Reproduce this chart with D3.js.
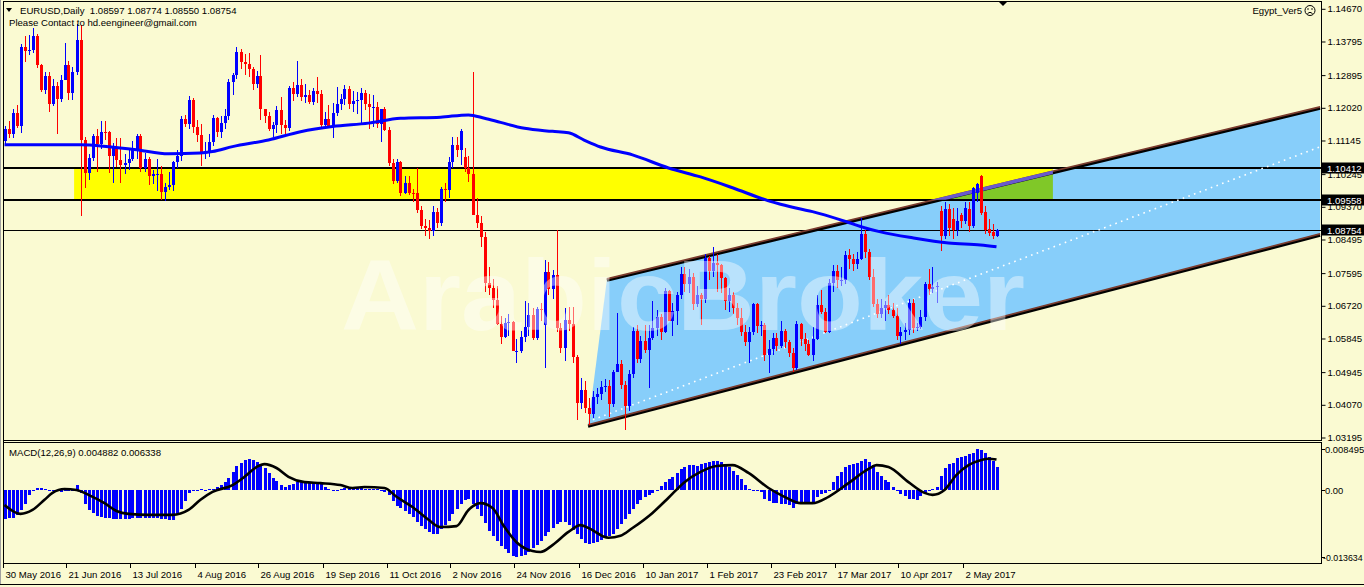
<!DOCTYPE html>
<html><head><meta charset="utf-8"><title>EURUSD Daily</title>
<script src="https://cdn.jsdelivr.net/npm/d3@7/dist/d3.min.js"></script>
<style>
html,body{margin:0;padding:0;background:#FAFAD2;overflow:hidden;}
svg{display:block;}
</style></head><body>
<svg id="chart" width="1364" height="587"></svg>
<script>
// ---------------- DATA ----------------
const open=[1.1114,1.1144,1.1131,1.1187,1.1153,1.1366,1.1355,1.1357,1.1395,1.1316,
1.1250,1.1287,1.1213,1.1261,1.1226,1.1277,1.1317,1.1241,1.1299,1.1383,
1.1117,1.1027,1.1067,1.1127,1.1105,1.1138,1.1136,1.1074,1.1097,1.1062,
1.1050,1.1055,1.1066,1.1092,1.1126,1.1041,1.1066,1.1020,1.1024,1.1026,
1.0976,1.0991,1.0996,1.1057,1.1074,1.1173,1.1159,1.1224,1.1151,1.1128,
1.1085,1.1086,1.1111,1.1175,1.1137,1.1160,1.1181,1.1272,1.1290,1.1351,
1.1325,1.1318,1.1306,1.1265,1.1287,1.1199,1.1180,1.1146,1.1157,1.1196,
1.1155,1.1148,1.1254,1.1238,1.1263,1.1232,1.1237,1.1217,1.1246,1.1238,
1.1155,1.1173,1.1154,1.1188,1.1211,1.1225,1.1253,1.1212,1.1219,1.1223,
1.1241,1.1211,1.1204,1.1205,1.1158,1.1200,1.1143,1.1055,1.1005,1.1056,
1.0973,1.1000,1.0974,1.0973,1.0928,1.0885,1.0880,1.0873,1.0923,1.0894,
1.0985,1.0981,1.1057,1.1103,1.1088,1.1070,1.1040,1.1026,1.0916,1.0893,
1.0856,1.0734,1.0719,1.0687,1.0622,1.0588,1.0626,1.0629,1.0550,1.0551,
1.0588,1.0614,1.0647,1.0586,1.0664,1.0620,1.0763,1.0718,1.0755,1.0613,
1.0560,1.0634,1.0623,1.0535,1.0411,1.0447,1.0398,1.0383,1.0427,1.0436,
1.0454,1.0458,1.0408,1.0495,1.0516,1.0460,1.0404,1.0489,1.0605,1.0530,
1.0577,1.0555,1.0585,1.0613,1.0643,1.0602,1.0711,1.0631,1.0658,1.0701,
1.0756,1.0730,1.0750,1.0677,1.0700,1.0691,1.0799,1.0766,1.0787,1.0782,
1.0746,1.0686,1.0700,1.0667,1.0640,1.0602,1.0574,1.0602,1.0676,1.0617,
1.0620,1.0541,1.0557,1.0585,1.0564,1.0604,1.0576,1.0547,1.0506,1.0622,
1.0582,1.0571,1.0540,1.0582,1.0673,1.0656,1.0602,1.0733,1.0765,1.0741,
1.0742,1.0809,1.0797,1.0783,1.0796,1.0865,1.0815,1.0750,1.0676,1.0651,
1.0665,1.0674,1.0662,1.0646,1.0591,1.0601,1.0606,1.0680,1.0613,1.0616,
1.0642,1.0731,1.0717,1.0722,1.0925,1.0858,1.0930,1.0905,1.0874,1.0914,
1.0899,1.0930,1.0885,1.0975,1.1020,1.0924,1.0877,1.0870,1.08597];
const high=[1.1152,1.1167,1.1200,1.1209,1.1374,1.1395,1.1397,1.1416,1.1400,1.1320,
1.1297,1.1298,1.1280,1.1270,1.1290,1.1375,1.1328,1.1310,1.1427,1.1423,
1.1125,1.1079,1.1132,1.1144,1.1166,1.1167,1.1139,1.1107,1.1120,1.1121,
1.1078,1.1095,1.1112,1.1132,1.1132,1.1080,1.1071,1.1036,1.1064,1.1046,
1.1002,1.1029,1.1060,1.1090,1.1179,1.1183,1.1234,1.1229,1.1169,1.1159,
1.1110,1.1131,1.1184,1.1177,1.1180,1.1199,1.1280,1.1295,1.1366,1.1360,
1.1345,1.1348,1.1310,1.1300,1.1342,1.1200,1.1190,1.1163,1.1208,1.1230,
1.1170,1.1260,1.1270,1.1327,1.1278,1.1265,1.1250,1.1256,1.1285,1.1250,
1.1190,1.1210,1.1215,1.1257,1.1240,1.1262,1.1260,1.1248,1.1245,1.1255,
1.1250,1.1240,1.1235,1.1218,1.1195,1.1205,1.1150,1.1065,1.1066,1.1060,
1.1020,1.1020,1.0985,1.1040,1.0938,1.0905,1.0902,1.0940,1.0935,1.0990,
1.1000,1.1070,1.1124,1.1125,1.1145,1.1095,1.1072,1.1299,1.0960,1.0912,
1.0870,1.0775,1.0745,1.0725,1.0645,1.0640,1.0651,1.0630,1.0582,1.0605,
1.0685,1.0680,1.0665,1.0668,1.0680,1.0795,1.0790,1.0767,1.0874,1.0625,
1.0666,1.0670,1.0669,1.0540,1.0478,1.0470,1.0424,1.0445,1.0451,1.0470,
1.0477,1.0474,1.0500,1.0652,1.0528,1.0470,1.0500,1.0615,1.0620,1.0590,
1.0621,1.0620,1.0685,1.0660,1.0650,1.0720,1.0715,1.0680,1.0710,1.0775,
1.0775,1.0770,1.0760,1.0725,1.0705,1.0810,1.0805,1.0829,1.0810,1.0785,
1.0750,1.0720,1.0710,1.0680,1.0665,1.0620,1.0615,1.0680,1.0680,1.0630,
1.0625,1.0580,1.0600,1.0600,1.0630,1.0610,1.0580,1.0560,1.0630,1.0625,
1.0600,1.0580,1.0615,1.0700,1.0715,1.0665,1.0745,1.0780,1.0780,1.0775,
1.0820,1.0825,1.0810,1.0815,1.0906,1.0875,1.0825,1.0770,1.0690,1.0690,
1.0685,1.0700,1.0680,1.0665,1.0615,1.0625,1.0690,1.0690,1.0625,1.0660,
1.0737,1.0770,1.0777,1.0735,1.0938,1.0950,1.0945,1.0935,1.0935,1.0920,
1.0950,1.0950,1.0990,1.1000,1.1022,1.0940,1.0905,1.0890,1.08774];
const low=[1.1105,1.1120,1.1121,1.1147,1.1134,1.1325,1.1342,1.1350,1.1309,1.1243,
1.1240,1.1190,1.1208,1.1131,1.1218,1.1277,1.1223,1.1223,1.1290,1.0912,
1.0986,1.1010,1.1060,1.1030,1.1093,1.1115,1.1028,1.1001,1.1043,1.1000,
1.1024,1.1036,1.1060,1.1066,1.1031,1.1030,1.0995,1.0999,1.0980,1.0954,
1.0952,1.0982,1.0980,1.1040,1.1060,1.1150,1.1145,1.1135,1.1110,1.1045,
1.1065,1.1070,1.1100,1.1125,1.1120,1.1145,1.1170,1.1235,1.1280,1.1305,
1.1290,1.1285,1.1250,1.1255,1.1170,1.1160,1.1140,1.1123,1.1135,1.1133,
1.1132,1.1140,1.1220,1.1230,1.1220,1.1216,1.1211,1.1210,1.1215,1.1150,
1.1150,1.1150,1.1120,1.1180,1.1196,1.1210,1.1200,1.1190,1.1185,1.1160,
1.1195,1.1145,1.1150,1.1148,1.1110,1.1140,1.1047,1.0999,1.1000,1.0965,
1.0970,1.0968,1.0950,1.0920,1.0878,1.0860,1.0851,1.0860,1.0880,1.0885,
1.0950,1.0960,1.1040,1.1070,1.1050,1.1030,1.1003,1.0972,1.0880,1.0830,
1.0710,1.0700,1.0665,1.0620,1.0570,1.0585,1.0590,1.0550,1.0518,1.0545,
1.0575,1.0590,1.0580,1.0580,1.0630,1.0505,1.0700,1.0690,1.0601,1.0545,
1.0525,1.0605,1.0520,1.0366,1.0395,1.0385,1.0352,1.0373,1.0410,1.0420,
1.0440,1.0375,1.0400,1.0495,1.0450,1.0340,1.0390,1.0480,1.0520,1.0520,
1.0545,1.0453,1.0580,1.0590,1.0580,1.0600,1.0630,1.0590,1.0620,1.0690,
1.0710,1.0705,1.0660,1.0670,1.0620,1.0680,1.0740,1.0750,1.0708,1.0705,
1.0660,1.0655,1.0650,1.0620,1.0590,1.0565,1.0520,1.0595,1.0600,1.0590,
1.0525,1.0493,1.0540,1.0550,1.0560,1.0560,1.0535,1.0495,1.0500,1.0565,
1.0550,1.0537,1.0525,1.0580,1.0650,1.0600,1.0600,1.0710,1.0720,1.0725,
1.0730,1.0770,1.0765,1.0770,1.0795,1.0800,1.0740,1.0670,1.0640,1.0640,
1.0630,1.0650,1.0640,1.0580,1.0570,1.0580,1.0595,1.0600,1.0605,1.0610,
1.0630,1.0700,1.0705,1.0680,1.0820,1.0850,1.0860,1.0850,1.0860,1.0880,
1.0890,1.0870,1.0880,1.0950,1.0915,1.0865,1.0860,1.0850,1.08550];
const close=[1.1144,1.1131,1.1187,1.1153,1.1366,1.1355,1.1357,1.1395,1.1316,1.1250,
1.1287,1.1213,1.1261,1.1226,1.1277,1.1317,1.1241,1.1299,1.1383,1.1117,
1.1027,1.1067,1.1127,1.1105,1.1138,1.1136,1.1074,1.1097,1.1062,1.1050,
1.1055,1.1066,1.1092,1.1126,1.1041,1.1066,1.1020,1.1024,1.1026,1.0976,
1.0991,1.0996,1.1057,1.1074,1.1173,1.1159,1.1224,1.1151,1.1128,1.1085,
1.1086,1.1111,1.1175,1.1137,1.1160,1.1181,1.1272,1.1290,1.1351,1.1325,
1.1318,1.1306,1.1265,1.1287,1.1199,1.1180,1.1146,1.1157,1.1196,1.1155,
1.1148,1.1254,1.1238,1.1263,1.1232,1.1237,1.1217,1.1246,1.1238,1.1155,
1.1173,1.1154,1.1188,1.1211,1.1225,1.1253,1.1212,1.1219,1.1223,1.1241,
1.1211,1.1204,1.1205,1.1158,1.1200,1.1143,1.1055,1.1005,1.1056,1.0973,
1.1000,1.0974,1.0973,1.0928,1.0885,1.0880,1.0873,1.0923,1.0894,1.0985,
1.0981,1.1057,1.1103,1.1088,1.1141,1.1040,1.1026,1.0916,1.0893,1.0856,
1.0734,1.0719,1.0687,1.0622,1.0588,1.0626,1.0629,1.0550,1.0551,1.0588,
1.0614,1.0647,1.0586,1.0664,1.0663,1.0763,1.0718,1.0755,1.0613,1.0560,
1.0634,1.0623,1.0535,1.0411,1.0447,1.0398,1.0383,1.0427,1.0436,1.0454,
1.0458,1.0408,1.0495,1.0516,1.0460,1.0404,1.0489,1.0605,1.0530,1.0577,
1.0555,1.0585,1.0613,1.0643,1.0602,1.0711,1.0631,1.0658,1.0701,1.0756,
1.0730,1.0750,1.0677,1.0700,1.0691,1.0799,1.0766,1.0787,1.0782,1.0746,
1.0686,1.0700,1.0667,1.0640,1.0602,1.0574,1.0602,1.0676,1.0617,1.0620,
1.0541,1.0557,1.0585,1.0564,1.0604,1.0576,1.0547,1.0506,1.0622,1.0582,
1.0571,1.0540,1.0582,1.0673,1.0656,1.0602,1.0733,1.0765,1.0741,1.0742,
1.0809,1.0797,1.0783,1.0796,1.0865,1.0815,1.0750,1.0676,1.0651,1.0665,
1.0674,1.0662,1.0646,1.0591,1.0601,1.0606,1.0680,1.0613,1.0616,1.0642,
1.0731,1.0717,1.0722,1.0726,1.0858,1.0930,1.0879,1.0874,1.0900,1.0899,
1.0934,1.0885,1.0987,1.0999,1.0921,1.0875,1.0868,1.0860,1.08754];

// moving average (blue line), sampled points: bar index / price
const maBars=[0,19,26,33,41,49,52,57,66,74,82,91,99,109,116,120,124,130,137,141,145,149,157,166,174,182,191,194,199,202,211,215,219,227,236,244,248];
const maVals=[1.1103,1.1103,1.1098,1.1090,1.1079,1.1081,1.1085,1.1098,1.1116,1.1138,1.1152,1.1161,1.1174,1.1177,1.1183,1.1174,1.1163,1.1147,1.1139,1.1135,1.1115,1.1097,1.1076,1.1041,1.1017,1.0988,1.0953,1.0944,1.0931,1.0924,1.0895,1.0881,1.0870,1.0854,1.0840,1.0835,1.0830];

// MACD histogram (one per bar)
const macdHist=[-0.0058,-0.0056,-0.0056,-0.0050,-0.0041,-0.0027,-0.0010,0.0001,0.0006,0.0006,
0.0004,-0.0001,-0.0002,-0.0002,-0.0004,-0.0002,-0.0002,0.0001,0.0012,-0.0006,
-0.0027,-0.0041,-0.0046,-0.0052,-0.0054,-0.0056,-0.0056,-0.0058,-0.0058,-0.0058,
-0.0058,-0.0058,-0.0056,-0.0056,-0.0056,-0.0056,-0.0056,-0.0056,-0.0056,-0.0058,
-0.0058,-0.0060,-0.0060,-0.0050,-0.0037,-0.0021,-0.0006,-0.0001,0.0001,0.0002,
-0.0001,0.0002,0.0004,0.0008,0.0012,0.0017,0.0025,0.0037,0.0050,0.0056,
0.0062,0.0064,0.0062,0.0058,0.0054,0.0046,0.0035,0.0025,0.0019,0.0012,
0.0008,0.0012,0.0014,0.0017,0.0017,0.0017,0.0017,0.0017,0.0014,0.0014,
0.0008,0.0002,-0.0001,-0.0001,0.0004,0.0006,0.0006,0.0006,0.0006,0.0006,
0.0004,0.0002,0.0002,0.0002,-0.0001,-0.0004,-0.0010,-0.0021,-0.0031,-0.0035,
-0.0043,-0.0048,-0.0054,-0.0064,-0.0072,-0.0079,-0.0085,-0.0089,-0.0089,-0.0079,
-0.0070,-0.0062,-0.0048,-0.0037,-0.0027,-0.0019,-0.0017,-0.0027,-0.0037,-0.0052,
-0.0066,-0.0083,-0.0093,-0.0104,-0.0114,-0.0120,-0.0128,-0.0135,-0.013634,-0.0134,
-0.0132,-0.0126,-0.0118,-0.0112,-0.0104,-0.0093,-0.0085,-0.0077,-0.0068,-0.0064,
-0.0064,-0.0070,-0.0081,-0.0089,-0.0099,-0.0108,-0.0110,-0.0108,-0.0106,-0.0101,
-0.0097,-0.0093,-0.0089,-0.0079,-0.0068,-0.0058,-0.0048,-0.0037,-0.0027,-0.0019,
-0.0014,-0.0010,-0.0006,0.0001,0.0010,0.0017,0.0023,0.0027,0.0035,0.0043,
0.0048,0.0052,0.0052,0.0050,0.0054,0.0056,0.0058,0.0060,0.0060,0.0058,
0.0054,0.0048,0.0039,0.0031,0.0023,0.0012,0.0002,-0.0002,-0.0001,-0.0004,
-0.0017,-0.0021,-0.0025,-0.0025,-0.0027,-0.0027,-0.0029,-0.0035,-0.0027,-0.0027,
-0.0027,-0.0027,-0.0023,-0.0014,-0.0008,-0.0006,0.0001,0.0017,0.0029,0.0037,
0.0048,0.0052,0.0054,0.0056,0.0060,0.0064,0.0058,0.0052,0.0037,0.0029,
0.0021,0.0017,0.0008,-0.0002,-0.0008,-0.0012,-0.0017,-0.0017,-0.0019,-0.0012,
-0.0008,-0.0002,0.0002,0.0008,0.0029,0.0046,0.0054,0.0056,0.0066,0.0068,
0.0070,0.0075,0.0077,0.008495,0.0083,0.0077,0.0068,0.0060,0.004882];

// MACD signal line, sampled points
const sigBars=[0,4,7,10,12,15,18,21,25,28,31,36,42,46,49,52,57,60,63,65,68,71,75,79,84,87,90,95,98,102,106,109,113,116,119,122,125,128,132,134,137,141,144,146,151,154,157,162,166,170,174,178,182,186,191,195,199,202,206,211,216,218,221,226,230,232,235,238,241,244,246,248];
const sigVals=[-0.0030,-0.0048,-0.0040,-0.0019,-0.0005,0.0003,0.0001,-0.0009,-0.0026,-0.0042,-0.0048,-0.0050,-0.0050,-0.0040,-0.0019,-0.0003,0.0011,0.0028,0.0048,0.0054,0.0046,0.0028,0.0017,0.0015,0.0011,0.0005,0.0007,0.0005,-0.0013,-0.0034,-0.0060,-0.0075,-0.0073,-0.0040,-0.0026,-0.0036,-0.0075,-0.0106,-0.0124,-0.0126,-0.0112,-0.0085,-0.0071,-0.0077,-0.0097,-0.0093,-0.0077,-0.0046,-0.0015,0.0017,0.0038,0.0050,0.0052,0.0036,0.0005,-0.0013,-0.0026,-0.0026,-0.0013,0.0015,0.0044,0.0052,0.0048,0.0017,-0.0005,-0.0009,0.0001,0.0032,0.0052,0.0062,0.0065,0.006338];

// axes
const priceTicks=[1.14670,1.13795,1.12895,1.12020,1.11145,1.10245,1.09370,1.08495,1.07595,1.06720,1.05845,1.04945,1.04070,1.03195];
const macdTicks=[0.008495,0,-0.013634];
const macdTickLabels=["0.008495","0.00","-0.013634"];
const dateTickBars=[0,16,32,48,64,80,96,112,128,144,160,176,192,208,224,240];
const dateLabels=["30 May 2016","21 Jun 2016","13 Jul 2016","4 Aug 2016","26 Aug 2016","19 Sep 2016","11 Oct 2016","2 Nov 2016","24 Nov 2016","16 Dec 2016","10 Jan 2017","1 Feb 2017","23 Feb 2017","17 Mar 2017","10 Apr 2017","2 May 2017"];

// drawn objects
const hLevels=[1.10412,1.09558,1.08754];
const hLabels=["1.10412","1.09558","1.08754"];
const zoneBars=[17.4,262.1];
const zonePrices=[1.09558,1.10412];
const chanLowerBars=[145.9,328.9], chanLowerPrices=[1.03508,1.08621];
const chanUpperBars=[150.6,328.9], chanUpperPrices=[1.07416,1.12020];
const dotBars=[147.1,328.9], dotPrices=[1.03669,1.10976];

// ---------------- DRAW ----------------
const FONT='"Liberation Sans", Arial, sans-serif';
const svg=d3.select("#chart");
const X0=4, X1=1321, MT=2, MB=440, ST=443, SB=563;
const x=d3.scaleLinear().domain([0,248]).range([4.5,996.5]);
const y=d3.scaleLinear().domain([1.03195,1.14670]).range([437.5,8.8]);
const ym=d3.scaleLinear().domain([-0.013634,0.008495]).range([557,449]);

svg.append("rect").attr("width",1364).attr("height",587).attr("fill","#FAFAD2");

const defs=svg.append("defs");
defs.append("clipPath").attr("id","clipMain").append("rect").attr("x",X0).attr("y",MT).attr("width",X1-X0).attr("height",MB-MT);
defs.append("clipPath").attr("id","clipSub").append("rect").attr("x",X0).attr("y",ST).attr("width",X1-X0).attr("height",SB-ST);
const chanPts=[[x(chanLowerBars[0]),y(chanLowerPrices[0])],[x(chanUpperBars[0]),y(chanUpperPrices[0])],
  [x(chanUpperBars[1]),y(chanUpperPrices[1])],[x(chanLowerBars[1]),y(chanLowerPrices[1])]];
defs.append("clipPath").attr("id","clipChan").append("polygon").attr("points",chanPts.map(p=>p.join(",")).join(" "));
const zx0=x(zoneBars[0]), zx1=x(zoneBars[1]), zy0=y(zonePrices[1]), zy1=y(zonePrices[0]);
defs.append("clipPath").attr("id","clipZone").append("rect").attr("x",zx0).attr("y",zy0).attr("width",zx1-zx0).attr("height",zy1-zy0);

const gM=svg.append("g").attr("clip-path","url(#clipMain)");
// yellow zone
gM.append("rect").attr("x",zx0).attr("y",zy0).attr("width",zx1-zx0).attr("height",zy1-zy0).attr("fill","#FFFF00");
// channel fill
gM.append("polygon").attr("points",chanPts.map(p=>p.join(",")).join(" ")).attr("fill","#87CEFA");
// overlap
gM.append("rect").attr("x",zx0).attr("y",zy0).attr("width",zx1-zx0).attr("height",zy1-zy0).attr("fill","#80C828").attr("clip-path","url(#clipChan)");
// horizontal lines
hLevels.forEach((p,k)=>{
  const yy=Math.round(y(p));
  gM.append("line").attr("x1",X0).attr("x2",X1).attr("y1",yy+(k<2?0:0.5)).attr("y2",yy+(k<2?0:0.5))
    .attr("stroke","#000").attr("stroke-width",k<2?2:1);
});
// channel lines
function chanLine(bars,prices){
  const a=[x(bars[0]),y(prices[0])], b=[x(bars[1]),y(prices[1])];
  gM.append("line").attr("x1",a[0]).attr("y1",a[1]+0.5).attr("x2",b[0]).attr("y2",b[1]+0.5).attr("stroke","#000").attr("stroke-width",3);
  gM.append("line").attr("x1",a[0]).attr("y1",a[1]-1).attr("x2",b[0]).attr("y2",b[1]-1).attr("stroke","#7A3B2E").attr("stroke-width",1.8);
  return [a,b];
}
chanLine(chanLowerBars,chanLowerPrices);
const up=chanLine(chanUpperBars,chanUpperPrices);
gM.append("line").attr("x1",up[0][0]).attr("y1",up[0][1]).attr("x2",up[1][0]).attr("y2",up[1][1])
  .attr("stroke","#6A5ACD").attr("stroke-width",3.5).attr("clip-path","url(#clipZone)");
// dotted white line
gM.append("line").attr("x1",x(dotBars[0])).attr("y1",y(dotPrices[0])).attr("x2",x(dotBars[1])).attr("y2",y(dotPrices[1]))
  .attr("stroke","#FFFFFF").attr("stroke-width",1.6).attr("stroke-dasharray","1.6,4.4");

// candles
const gC=gM.append("g").attr("shape-rendering","crispEdges");
open.forEach((o,i)=>{
  const c=close[i], h=high[i], l=low[i];
  const col=c>=o?"#0000FF":"#FF0000";
  const cx=Math.round(x(i));
  const yh=Math.round(y(h)), yl=Math.round(y(l));
  gC.append("rect").attr("x",cx).attr("y",yh).attr("width",1).attr("height",Math.max(1,yl-yh)).attr("fill",col);
  const yt=Math.round(y(Math.max(o,c))), yb=Math.round(y(Math.min(o,c)));
  gC.append("rect").attr("x",cx-1).attr("y",yt).attr("width",3).attr("height",Math.max(1,yb-yt)).attr("fill",col);
});
// moving average
const maLine=d3.line().x(d=>x(d[0])).y(d=>y(d[1])).curve(d3.curveMonotoneX);
gM.append("path").attr("d",maLine(maBars.map((b,k)=>[b,maVals[k]]))).attr("fill","none").attr("stroke","#0000FF").attr("stroke-width",3);
// watermark
gM.append("text").attr("x",341).attr("y",330).attr("font-family",FONT).attr("font-weight","bold").attr("font-size",100)
  .attr("textLength",684).attr("lengthAdjust","spacingAndGlyphs")
  .attr("fill","#FFFFFF").attr("fill-opacity",0.42).text("ArabicBroker");

// MACD panel
const gS=svg.append("g").attr("clip-path","url(#clipSub)");
const z0=ym(0);
const gH=gS.append("g").attr("shape-rendering","crispEdges");
macdHist.forEach((v,i)=>{
  const cx=Math.round(x(i));
  const a=Math.round(ym(v)), b=Math.round(z0);
  gH.append("rect").attr("x",cx-1).attr("y",Math.min(a,b)).attr("width",3).attr("height",Math.max(1,Math.abs(a-b))).attr("fill","#0000FF");
});
const sigLine=d3.line().x(d=>x(d[0])).y(d=>ym(d[1])).curve(d3.curveMonotoneX);
gS.append("path").attr("d",sigLine(sigBars.map((b,k)=>[b,sigVals[k]]))).attr("fill","none").attr("stroke","#000").attr("stroke-width",2.6);

// borders
const gB=svg.append("g").attr("shape-rendering","crispEdges").attr("stroke","#000");
gB.append("line").attr("x1",3.5).attr("x2",3.5).attr("y1",1).attr("y2",SB);
gB.append("line").attr("x1",3).attr("x2",X1+1).attr("y1",1.5).attr("y2",1.5);
gB.append("line").attr("x1",X1+0.5).attr("x2",X1+0.5).attr("y1",1).attr("y2",MB);
gB.append("line").attr("x1",X1+0.5).attr("x2",X1+0.5).attr("y1",ST-0.5).attr("y2",SB);
gB.append("line").attr("x1",3).attr("x2",X1+1).attr("y1",MB+0.5).attr("y2",MB+0.5);
gB.append("line").attr("x1",3).attr("x2",X1+1).attr("y1",ST-0.5).attr("y2",ST-0.5);
gB.append("line").attr("x1",3).attr("x2",X1+1).attr("y1",SB+0.5).attr("y2",SB+0.5);
gB.append("line").attr("x1",0).attr("x2",1364).attr("y1",584.5).attr("y2",584.5).attr("stroke-width",1.5);
svg.append("line").attr("x1",0.5).attr("x2",0.5).attr("y1",0).attr("y2",584).attr("stroke","#A0A0A0");

// price axis
const ay=svg.append("g").attr("transform",`translate(${X1+0.5},0)`)
  .call(d3.axisRight(y).tickValues(priceTicks).tickSize(4).tickPadding(2).tickFormat(d3.format(".5f")));
ay.select(".domain").remove();
ay.attr("font-family",FONT).attr("font-size",9.6);
ay.selectAll("text").attr("fill","#000");
ay.selectAll("line").attr("stroke","#000");
// level labels
hLevels.forEach((p,k)=>{
  const yy=Math.round(y(p));
  svg.append("rect").attr("x",X1+1).attr("y",yy-5.5).attr("width",43).attr("height",11).attr("fill","#000");
  svg.append("text").attr("x",X1+6).attr("y",yy+3.8).attr("font-family",FONT).attr("font-size",9.6).attr("fill","#fff").text(hLabels[k]);
});
// macd axis
const am=svg.append("g");
macdTicks.forEach((v,k)=>{
  const yy=Math.round(ym(v))+0.5;
  am.append("line").attr("x1",X1).attr("x2",X1+4).attr("y1",yy).attr("y2",yy).attr("stroke","#000");
  am.append("text").attr("x",v<0?X1+2:X1+4).attr("y",yy+3.5).attr("font-family",FONT).attr("font-size",v<0?8.8:9.4).attr("fill","#000").text(macdTickLabels[k]);
});
// date axis
dateTickBars.forEach((b,k)=>{
  const xx=Math.round(x(b))-1.5;
  svg.append("line").attr("x1",xx).attr("x2",xx).attr("y1",SB).attr("y2",SB+5).attr("stroke","#000");
  svg.append("text").attr("x",xx+2).attr("y",578).attr("font-family",FONT).attr("font-size",9.6).attr("fill","#000").text(dateLabels[k]);
});

// header texts
svg.append("path").attr("d","M6,8 L12,8 L9,12 Z").attr("fill","#000");
svg.append("text").attr("x",20).attr("y",14).attr("font-family",FONT).attr("font-size",9.6).attr("fill","#000")
  .style("white-space","pre").text("EURUSD,Daily  1.08597 1.08774 1.08550 1.08754");
svg.append("text").attr("x",9).attr("y",26).attr("font-family",FONT).attr("font-size",9.6).attr("fill","#000")
  .text("Please Contact to hd.eengineer@gmail.com");
svg.append("text").attr("x",9).attr("y",456).attr("font-family",FONT).attr("font-size",9.6).attr("fill","#000")
  .text("MACD(12,26,9) 0.004882 0.006338");
svg.append("text").attr("x",1302).attr("y",14).attr("text-anchor","end").attr("font-family",FONT).attr("font-size",9.6).attr("fill","#000")
  .text("Egypt_Ver5");
const face=svg.append("g").attr("transform","translate(1310,10.5)");
face.append("circle").attr("r",5).attr("fill","none").attr("stroke","#000").attr("stroke-width",1);
face.append("circle").attr("cx",-2).attr("cy",-1.5).attr("r",0.8).attr("fill","#000");
face.append("circle").attr("cx",2).attr("cy",-1.5).attr("r",0.8).attr("fill","#000");
face.append("path").attr("d","M-2.5,3 Q0,0.5 2.5,3").attr("fill","none").attr("stroke","#000").attr("stroke-width",1);
// shift marker
svg.append("path").attr("d","M998,1 L1008,1 L1003,6 Z").attr("fill","#000");
</script></body></html>
